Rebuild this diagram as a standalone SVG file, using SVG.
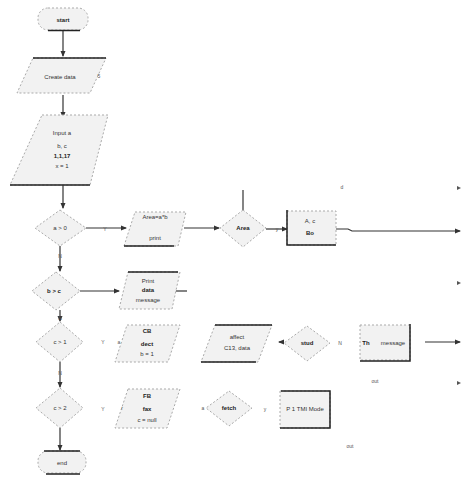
<svg xmlns="http://www.w3.org/2000/svg" width="463" height="477" viewBox="0 0 463 477">
<style>
.sh{fill:#f2f2f2;stroke:#aaa;stroke-width:1;stroke-dasharray:2 2}
.sl{fill:none;stroke:#222;stroke-width:1.5}
.ln{fill:none;stroke:#333;stroke-width:1.2}
.t{font-family:"Liberation Sans",Arial,sans-serif;font-size:6px;fill:#333;text-anchor:middle}
.tb{font-family:"Liberation Sans",Arial,sans-serif;font-size:6px;font-weight:bold;fill:#222;text-anchor:middle}
.lb{font-family:"Liberation Sans",Arial,sans-serif;font-size:5px;fill:#555;text-anchor:middle}
</style>
<defs>
<marker id="ar" markerWidth="6" markerHeight="6" refX="5" refY="3" orient="auto" markerUnits="userSpaceOnUse"><path d="M0,0.5 L6,3 L0,5.5 z" fill="#333"/></marker>
</defs>
<rect width="463" height="477" fill="#fff"/>
<g id="connectors">
<path class="ln" d="M63,31 V56" marker-end="url(#ar)"/>
<path class="ln" d="M63,95 V117" marker-end="url(#ar)"/>
<path class="ln" d="M63,185 V208" marker-end="url(#ar)"/>
<path class="ln" d="M86,228 H126" marker-end="url(#ar)"/>
<path class="ln" d="M184,228 H219" marker-end="url(#ar)"/>
<path class="ln" d="M243,190 V210"/>
<path class="ln" d="M266,229 H287" marker-end="url(#ar)"/>
<path class="ln" d="M336,229 H348 L352,231 H460" marker-end="url(#ar)"/>
<path class="ln" d="M60,246 V271" marker-end="url(#ar)"/>
<path class="ln" d="M80,291 H119" marker-end="url(#ar)"/>
<path class="ln" d="M173,291 H187"/>
<path class="ln" d="M60,310 V321" marker-end="url(#ar)"/>
<path class="ln" d="M60,362 V387" marker-end="url(#ar)"/>
<path class="ln" d="M60,428 V450" marker-end="url(#ar)"/>
<path class="ln" d="M425,342 H460" marker-end="url(#ar)"/>
<path class="ln" d="M283,342 H279" marker-end="url(#ar)"/>
</g>
<g id="start">
<rect class="sh" x="38" y="8" width="50" height="22" rx="10"/>
<path class="sl" d="M48,30.5 H80"/>
<text class="tb" x="63" y="22">start</text>
</g>
<g id="create">
<polygon class="sh" points="33,58 106,58 90,93 17,93"/>
<path class="sl" d="M33,58 H106"/>
<text class="t" x="60" y="79">Create data</text>
<text class="lb" x="99" y="78">5</text>
</g>
<g id="input">
<polygon class="sh" points="42,115 108,115 90,185 10,185"/>
<path class="sl" d="M10,185 H90"/>
<text class="t" x="62" y="135">Input a</text>
<text class="t" x="62" y="148">b, c</text>
<text class="tb" x="62" y="158">1,1,17</text>
<text class="t" x="62" y="168">x = 1</text>
</g>
<g id="d1">
<polygon class="sh" points="60,210 86,228 60,246 35,228"/>
<text class="t" x="60" y="230">a &gt; 0</text>
<text class="lb" x="105" y="231">Y</text>
<text class="lb" x="60" y="258">N</text>
</g>
<g id="p1">
<polygon class="sh" points="135,212 186,212 178,246 124,246"/>
<path class="sl" d="M124,246 H174"/>
<text class="t" x="155" y="219">Area=a*b</text>
<text class="t" x="155" y="240">print</text>
</g>
<g id="d2">
<polygon class="sh" points="243,210 266,228 243,247 220,228"/>
<text class="tb" x="243" y="230">Area</text>
<text class="lb" x="277" y="231">y</text>
</g>
<g id="r1">
<rect class="sh" x="287" y="211" width="49" height="34"/>
<path class="sl" d="M287,210 V245 H336"/>
<text class="t" x="310" y="223">A, c</text>
<text class="tb" x="310" y="235">Bo</text>
<text class="lb" x="342" y="189">d</text>
</g>
<g id="d3">
<polygon class="sh" points="56,272 80,291 56,310 32,291"/>
<text class="tb" x="54" y="293">b &gt; c</text>
<text class="lb" x="60" y="320">N</text>
</g>
<g id="p2">
<polygon class="sh" points="128,272 180,272 172,309 119,309"/>
<path class="sl" d="M128,272 H178"/>
<text class="t" x="148" y="283">Print</text>
<text class="tb" x="148" y="292">data</text>
<text class="t" x="148" y="302">message</text>
</g>
<g id="d4">
<polygon class="sh" points="60,322 83,342 60,362 36,342"/>
<text class="t" x="60" y="344">c &gt; 1</text>
<text class="lb" x="103" y="344">Y</text>
<text class="lb" x="60" y="375">N</text>
</g>
<g id="p3">
<polygon class="sh" points="127,325 180,325 168,362 115,362"/>
<text class="tb" x="147" y="333">CB</text>
<text class="tb" x="147" y="346">dect</text>
<text class="t" x="147" y="356">b = 1</text>
<text class="lb" x="119" y="344">a</text>
</g>
<g id="p4">
<polygon class="sh" points="215,325 272,325 258,362 201,362"/>
<path class="sl" d="M215,325 H272 M201,362 H256"/>
<text class="t" x="237" y="339">affect</text>
<text class="t" x="237" y="350">C13, data</text>
</g>
<g id="d5">
<polygon class="sh" points="307,326 330,343 307,361 284,343"/>
<text class="tb" x="307" y="345">stud</text>
<text class="lb" x="340" y="345">N</text>
</g>
<g id="r2">
<rect class="sh" x="360" y="325" width="50" height="35"/>
<path class="sl" d="M410,324 V361 H360"/>
<text class="tb" x="366" y="345">Th</text>
<text class="t" x="393" y="345">message</text>
<text class="lb" x="375" y="383">out</text>
</g>
<g id="d6">
<polygon class="sh" points="60,388 83,408 60,428 36,408"/>
<text class="t" x="60" y="410">c &gt; 2</text>
<text class="lb" x="103" y="411">Y</text>
</g>
<g id="p5">
<polygon class="sh" points="128,389 180,389 167,428 115,428"/>
<text class="tb" x="147" y="398">FB</text>
<text class="tb" x="147" y="411">fax</text>
<text class="t" x="147" y="422">c = null</text>
<text class="lb" x="122" y="410">r</text>
</g>
<g id="d7">
<polygon class="sh" points="229,391 252,408 229,426 206,408"/>
<text class="tb" x="229" y="410">fetch</text>
<text class="lb" x="203" y="410">a</text>
<text class="lb" x="265" y="411">y</text>
</g>
<g id="r3">
<rect class="sh" x="280" y="391" width="50" height="37"/>
<path class="sl" d="M281,391 H330 V428 H280"/>
<text class="t" x="305" y="411">P 1 TMI Mode</text>
<text class="lb" x="350" y="448">out</text>
</g>
<g id="end">
<rect class="sh" x="38" y="451" width="48" height="22" rx="10"/>
<path class="sl" d="M44,451 H80 M46,474 H80"/>
<text class="t" x="62" y="465">end</text>
</g>
<g id="edge-marks">
<path d="M457,186 l4,2 -4,2z M457,281 l4,2 -4,2z M457,381 l4,2 -4,2z" fill="#555"/>
</g>
</svg>
